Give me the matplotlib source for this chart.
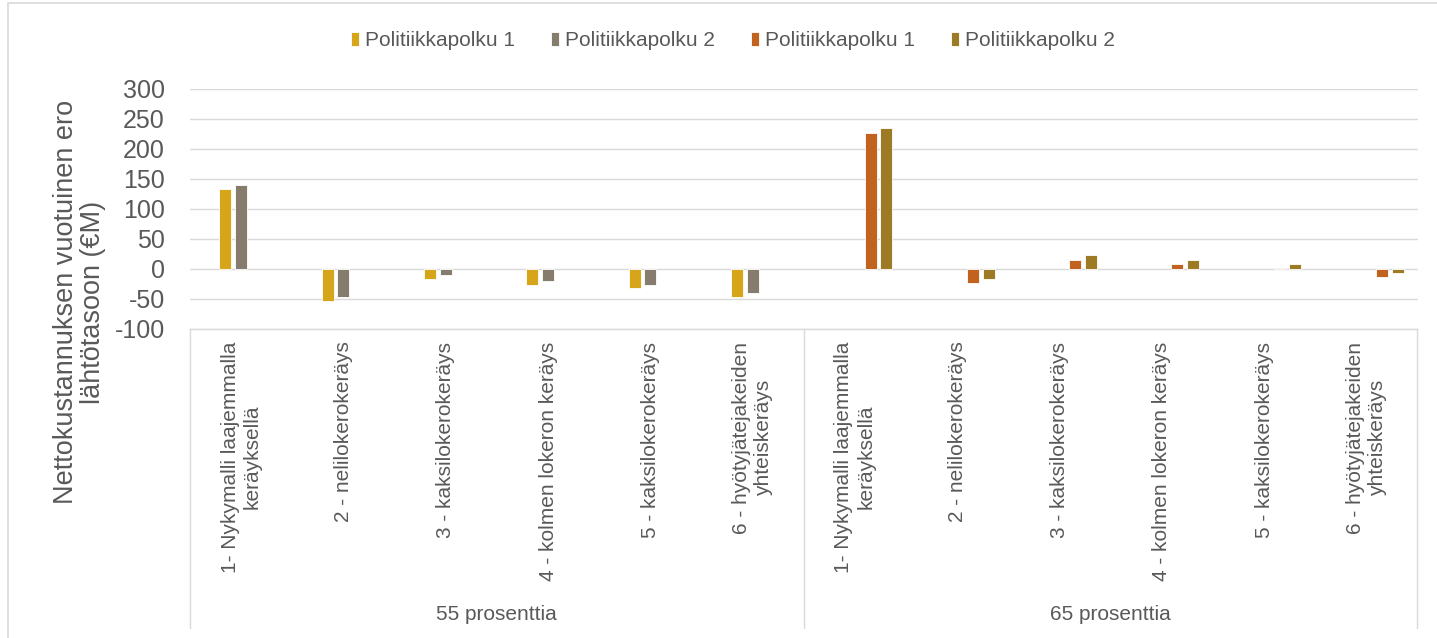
import numpy as np
import matplotlib
matplotlib.use('Agg')
import matplotlib.pyplot as plt
from matplotlib.lines import Line2D
from matplotlib.patches import Rectangle
from matplotlib.transforms import blended_transform_factory

plt.rcParams['font.family'] = ['Liberation Sans', 'DejaVu Sans']

# categories (x axis), two groups of six
categories = ['1- Nykymalli laajemmalla\nkeräyksellä', '2 - nelilokerokeräys',
              '3 - kaksilokerokeräys', '4 - kolmen lokeron keräys',
              '5 - kaksilokerokeräys', '6 - hyötyjätejakeiden\nyhteiskeräys']
groups = ['55 prosenttia', '65 prosenttia']
labels = categories + categories

# values (€M); nan = no bar
nan = np.nan
p1_55 = [134, -52.8, -16, -26, -31.7, -46] + [nan] * 6
p2_55 = [140, -47.2, -10.5, -20.5, -26, -40.5] + [nan] * 6
p1_65 = [nan] * 6 + [227.5, -22.7, 15.6, 7.8, 1.0, -12.8]
p2_65 = [nan] * 6 + [235, -16, 22.8, 14.4, 7.8, -6]

series_names = ['Politiikkapolku 1', 'Politiikkapolku 2', 'Politiikkapolku 1', 'Politiikkapolku 2']
colors = ['#D7A51A', '#857C6E', '#C1621F', '#9D7B24']
yticks = [-100, -50, 0, 50, 100, 150, 200, 250, 300]

W, H = 1437, 638
fig = plt.figure(figsize=(W / 100, H / 100), dpi=100)
ax = fig.add_axes([190 / W, 1 - 329 / H, (1417.5 - 190) / W, (329 - 89) / H])

x = np.arange(len(labels))
pitch = 0.1534
bw = 0.118
# Excel cluster has five slots; the first one is empty
all_series = [p1_55, p2_55, p1_65, p2_65]
handles = []
for k, (vals, c) in enumerate(zip(all_series, colors)):
    off = (k + 1 - 2) * pitch
    b = ax.bar(x + off, vals, width=bw, color=c, edgecolor='white', linewidth=0.6,
               zorder=3, label=series_names[k])
    handles.append(b)

ax.set_xlim(-0.5, len(labels) - 0.5)
ax.set_ylim(-100, 300)
ax.set_yticks(yticks)
ax.set_yticklabels([str(v) for v in yticks])
ax.yaxis.grid(True, color='#d9d9d9', linewidth=1.0, zorder=0)
ax.set_axisbelow(True)
for s in ax.spines.values():
    s.set_visible(False)
ax.tick_params(axis='y', length=0, pad=18, labelsize=18, labelcolor='#595959')

ax.set_xticks(x)
ax.set_xticklabels(labels, rotation=90, va='top', ha='center', multialignment='center',
                   fontsize=15, color='#595959')
ax.tick_params(axis='x', length=0, pad=9)

# category box below the plot
tr = blended_transform_factory(ax.transData, fig.transFigure)
y_top = 1 - 329 / H
y_bot = 1 - 628 / H
lc = '#d9d9d9'
fig.add_artist(Line2D([-0.5, 11.5], [y_top, y_top], transform=tr, color=lc, lw=1.0))
for xs in [-0.5, 5.5, 11.5]:
    fig.add_artist(Line2D([xs, xs], [y_top, y_bot], transform=tr, color=lc, lw=1.0))
for i, g in enumerate(groups):
    fig.text(2.5 + 6 * i, 1 - 614 / H, g, transform=tr, ha='center', va='center',
             fontsize=15, color='#595959')

# y axis title
fig.text(80 / W, 1 - 302 / H, 'Nettokustannuksen vuotuinen ero\nlähtötasoon (€M)',
         rotation=90, ha='center', va='center', multialignment='center',
         fontsize=19.5, color='#595959', linespacing=1.05)

# legend
fig.legend(handles=handles, labels=series_names, loc='center', ncol=4,
           bbox_to_anchor=(733 / W, 1 - 41 / H), frameon=False, fontsize=15,
           labelcolor='#595959', handlelength=0.4, handleheight=0.65,
           handletextpad=0.3, columnspacing=1.7)

# chart frame
fig.add_artist(Rectangle((8 / W, -0.05), 1.2, 1 - 3 / H + 0.05, transform=fig.transFigure,
                         fill=False, edgecolor='#d9d9d9', lw=1.2))

fig.savefig('out.png', dpi=100)
